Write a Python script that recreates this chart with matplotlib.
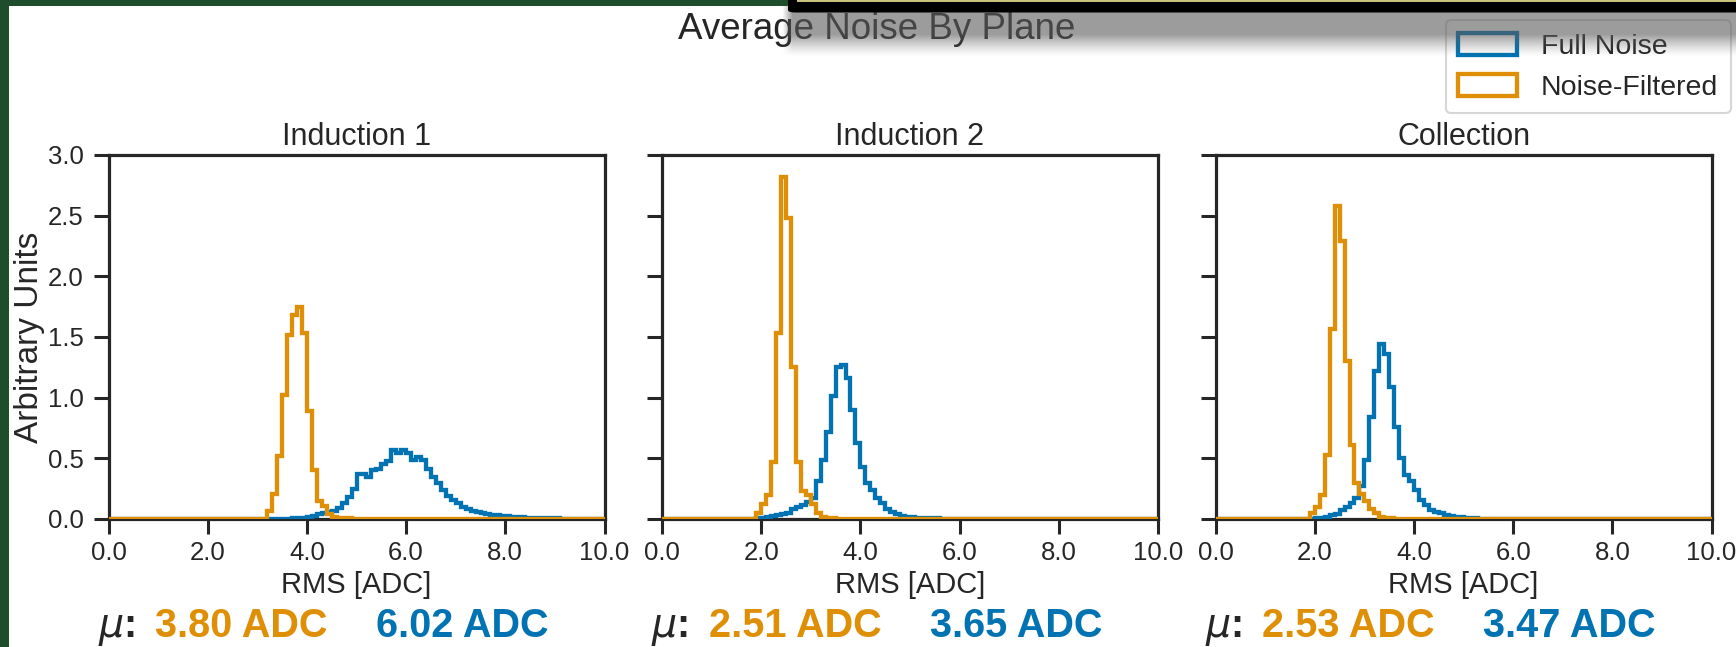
import numpy as np
import matplotlib
matplotlib.use("Agg")
import matplotlib.pyplot as plt
from matplotlib.patches import Rectangle, FancyBboxPatch, Patch

# ---------------- data ----------------
planes = ["Induction 1", "Induction 2", "Collection"]
series_names = ["Full Noise", "Noise-Filtered"]
bin_width = 0.1
x_min, x_max = 0.0, 10.0

# densities per 0.1-wide bin, each list starts at the given left edge
ind1_full_start = 3.7
ind1_full = [0.005, 0.008, 0.012, 0.018, 0.025, 0.04, 0.05, 0.06, 0.07, 0.09,
             0.13, 0.18, 0.25, 0.37, 0.37, 0.35, 0.40, 0.41, 0.45, 0.48,
             0.57, 0.54, 0.57, 0.54, 0.49, 0.51, 0.49, 0.41, 0.35, 0.30,
             0.24, 0.19, 0.16, 0.13, 0.10, 0.084, 0.07, 0.06, 0.05, 0.04,
             0.037, 0.03, 0.028, 0.025, 0.02, 0.018, 0.015, 0.012, 0.012, 0.01,
             0.01, 0.008, 0.006, 0.005, 0.004, 0.003]
ind1_filt_start = 3.2
ind1_filt = [0.07, 0.21, 0.52, 1.02, 1.52, 1.68, 1.75, 1.53, 0.89, 0.40,
             0.15, 0.11, 0.04, 0.015, 0.01, 0.005, 0.005, 0.004, 0.003]

ind2_full_start = 1.9
ind2_full = [0.005, 0.01, 0.02, 0.025, 0.035, 0.045, 0.05, 0.08, 0.10, 0.115,
             0.14, 0.17, 0.31, 0.49, 0.72, 1.01, 1.25, 1.27, 1.16, 0.90,
             0.63, 0.43, 0.30, 0.24, 0.17, 0.13, 0.085, 0.06, 0.04, 0.025,
             0.02, 0.015, 0.012, 0.01, 0.008, 0.006, 0.005, 0.004, 0.003]
ind2_filt_start = 1.9
ind2_filt = [0.05, 0.12, 0.20, 0.47, 1.53, 2.82, 2.48, 1.25, 0.47, 0.23,
             0.20, 0.12, 0.05, 0.02, 0.01, 0.005]

coll_full_start = 1.9
coll_full = [0.003, 0.006, 0.01, 0.02, 0.03, 0.04, 0.075, 0.10, 0.13, 0.17,
             0.27, 0.49, 0.84, 1.22, 1.44, 1.36, 1.09, 0.76, 0.50, 0.36,
             0.31, 0.24, 0.16, 0.115, 0.075, 0.06, 0.047, 0.036, 0.027, 0.02,
             0.014, 0.01, 0.007, 0.005, 0.003]
coll_filt_start = 1.9
coll_filt = [0.05, 0.10, 0.20, 0.53, 1.57, 2.58, 2.29, 1.30, 0.61, 0.30,
             0.21, 0.15, 0.08, 0.05, 0.02, 0.01, 0.005]

mean_filtered = [3.80, 2.51, 2.53]
mean_full = [6.02, 3.65, 3.47]

xticks = [0, 2, 4, 6, 8, 10]
yticks = [0.0, 0.5, 1.0, 1.5, 2.0, 2.5, 3.0]

full_series = [(ind1_full_start, ind1_full), (ind2_full_start, ind2_full),
               (coll_full_start, coll_full)]
filt_series = [(ind1_filt_start, ind1_filt), (ind2_filt_start, ind2_filt),
               (coll_filt_start, coll_filt)]

# ---------------- style ----------------
BLUE = "#0173B2"
ORANGE = "#DE8F05"
DARK = "#262626"
LW = 3.1
plt.rcParams["font.family"] = ["Liberation Sans", "DejaVu Sans"]
plt.rcParams["mathtext.fontset"] = "dejavusans"

W, H = 1736, 647
fig = plt.figure(figsize=(W / 100, H / 100), dpi=100)
fig.patch.set_facecolor("white")

edges = np.linspace(x_min, x_max, int(round((x_max - x_min) / bin_width)) + 1)


def to_full(start, vals):
    arr = np.zeros(len(edges) - 1)
    i0 = int(round((start - x_min) / bin_width))
    arr[i0:i0 + len(vals)] = vals
    return arr


lefts_px = [108.5, 662.0, 1215.6]
ax_w_px = 496.0
ax_top_px, ax_bot_px = 155.0, 519.0

for i, plane in enumerate(planes):
    ax = fig.add_axes([lefts_px[i] / W, (H - ax_bot_px) / H, ax_w_px / W,
                       (ax_bot_px - ax_top_px) / H])
    ax.stairs(to_full(*full_series[i]), edges, color=BLUE, lw=LW, zorder=3)
    ax.stairs(to_full(*filt_series[i]), edges, color=ORANGE, lw=LW, zorder=3)
    ax.set_xlim(x_min, x_max)
    ax.set_ylim(0, 3.0)
    ax.set_xticks(xticks)
    ax.set_xticklabels([f"{t:.1f}" for t in xticks])
    ax.set_yticks(yticks)
    if i == 0:
        ax.set_yticklabels([f"{t:.1f}" for t in yticks])
        ax.set_ylabel("Arbitrary Units", fontsize=24, color=DARK)
        ax.yaxis.set_label_coords(-0.128, 0.5)
    else:
        ax.set_yticklabels([])
    for s in ax.spines.values():
        s.set_color(DARK)
        s.set_linewidth(2.3)
    ax.tick_params(axis="both", which="major", direction="out", length=11,
                   width=2.2, color=DARK, labelsize=18.5, labelcolor=DARK)
    ax.tick_params(axis="x", pad=4.5)
    ax.tick_params(axis="y", pad=7)
    ax.tick_params(top=False, right=False)
    ax.set_xlabel("RMS [ADC]", fontsize=21, color=DARK, labelpad=5)
    ax.set_title(plane, fontsize=22, color=DARK, pad=7)

    ax.text(-0.022, -0.325, r"$\mu$:", transform=ax.transAxes, fontsize=28.5,
            fontweight="bold", color=DARK, ha="left", va="baseline")
    ax.text(0.094, -0.325, f"{mean_filtered[i]:.2f} ADC", transform=ax.transAxes,
            fontsize=28.5, fontweight="bold", color=ORANGE, ha="left", va="baseline")
    ax.text(0.540, -0.325, f"{mean_full[i]:.2f} ADC", transform=ax.transAxes,
            fontsize=28.5, fontweight="bold", color=BLUE, ha="left", va="baseline")

fig.text(0.505, 1 - 39 / H, "Average Noise By Plane", fontsize=26.5, color=DARK,
         ha="center", va="baseline")

handles = [Patch(facecolor="none", edgecolor=BLUE, linewidth=LW),
           Patch(facecolor="none", edgecolor=ORANGE, linewidth=LW)]
leg = fig.legend(handles, series_names, loc="upper right",
                 bbox_to_anchor=(1731 / W, 1 - 20 / H), borderaxespad=0,
                 fontsize=20.5, frameon=True, fancybox=True, handlelength=2.05,
                 handleheight=0.8, handletextpad=0.85, labelspacing=0.5,
                 borderpad=0.45)
leg.get_frame().set_edgecolor("#cccccc")
leg.get_frame().set_linewidth(1.5)
for t in leg.get_texts():
    t.set_color(DARK)

# ---------------- screenshot framing (decoration) ----------------
GREEN = "#1d4d2b"
fig.patches.append(Rectangle((0, 0), 9 / W, 1, transform=fig.transFigure,
                             facecolor=GREEN, edgecolor="none", zorder=50))
fig.patches.append(Rectangle((0, 1 - 6 / H), 788 / W, 6 / H,
                             transform=fig.transFigure, facecolor=GREEN,
                             edgecolor="none", zorder=50))

# shadow below the black bar
sh_h, sh_w = 56, W - 780
sh_ax = fig.add_axes([780 / W, 1 - sh_h / H, sh_w / W, sh_h / H], zorder=40)
sh_ax.set_axis_off()
yy = np.arange(sh_h)[:, None].astype(float)
xx = np.arange(sh_w)[None, :].astype(float)
a_y = np.clip((sh_h - yy) / 22.0, 0, 1) ** 1.3 * 0.6
a_x = np.clip((xx - 2) / 10.0, 0, 1)
alpha = a_y * a_x
rgba = np.zeros((sh_h, sh_w, 4))
rgba[..., :3] = 0.36
rgba[..., 3] = alpha
sh_ax.imshow(rgba, aspect="auto", interpolation="bilinear",
             extent=[0, sh_w, sh_h, 0])
sh_ax.set_xlim(0, sh_w)
sh_ax.set_ylim(sh_h, 0)

fig.patches.append(FancyBboxPatch((788 / W, 1 - 12.5 / H), (W - 788) / W + 0.01,
                                  12.5 / H + 0.01, boxstyle="round,pad=0,rounding_size=0.004",
                                  transform=fig.transFigure, facecolor="black",
                                  edgecolor="none", zorder=60))
fig.patches.append(Rectangle((797 / W, 1 - 2 / H), (W - 797) / W, 2 / H,
                             transform=fig.transFigure, facecolor="#c9c27c",
                             edgecolor="none", zorder=61))

fig.savefig("out.png", dpi=100, facecolor="white")
